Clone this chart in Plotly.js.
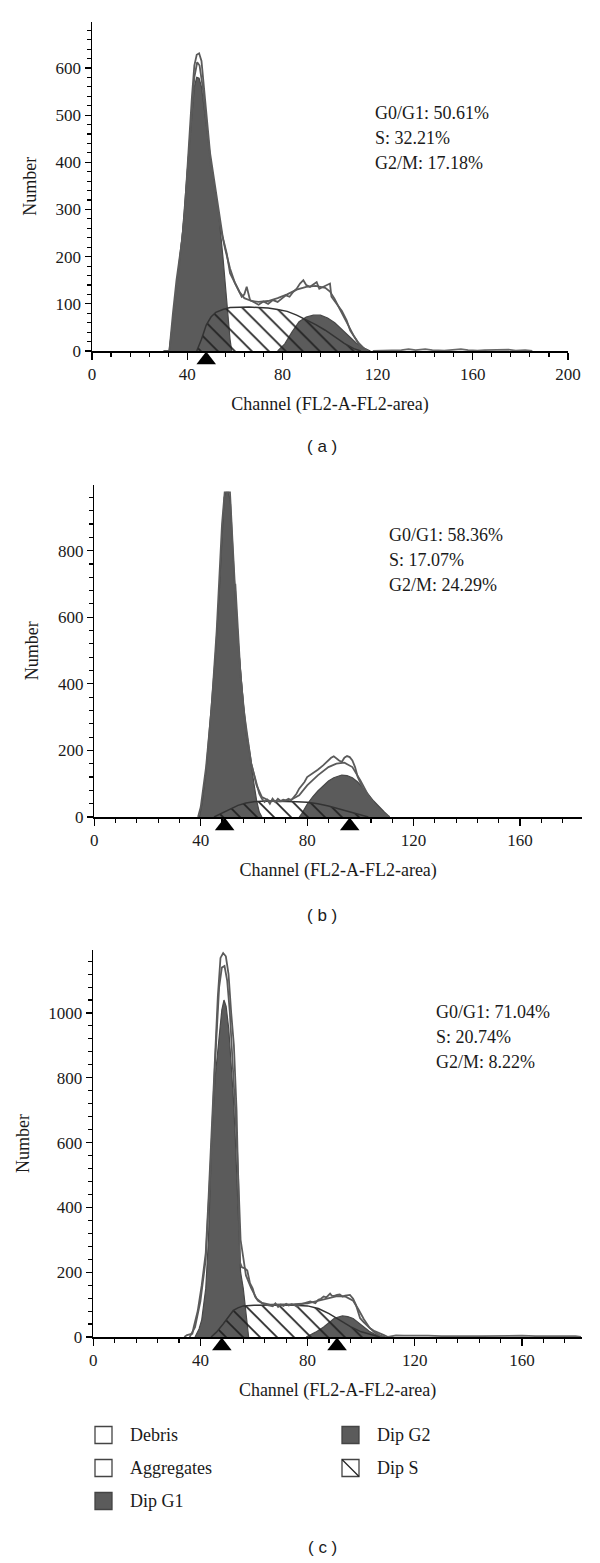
<!DOCTYPE html>
<html>
<head>
<meta charset="utf-8">
<script src="https://cdn.plot.ly/plotly-3.0.1.min.js"></script>
<style>html,body{margin:0;padding:0;background:#fff;}#chart{width:600px;height:1563px;}</style>
</head>
<body>
<div id="chart"></div>
<script>
// ---------- Panel (a) ----------
var aDataCh = [30,32.5,34,35.5,37,38,39,40,41,42,43,44,45,46,47,48,49.6,51.7,53.8,55,56.6,58,59.5,60.8,62.9,64,65,66.4,68,70,72,74,76,78,80,81.5,83,84.5,86,87.4,88.8,90,91.6,93,94.4,95.5,97,98.5,100,100.6,102.8,105,107,108.5,110,111.3,112.5,114];
var aDataN  = [0,0,80,150,205,240,300,370,460,540,605,628,631,615,560,500,420,350,278,240,207,165,150,136,115,120,136,108,104,98,105,100,108,104,112,118,115,125,132,143,150,140,136,142,146,132,136,140,143,115,100,85,65,43,32,21,10,0];
var aFitCh = [32.5,35,37,39,41,43,44.2,45.2,46.5,48,50,52,54,56,58,60,62,64,67,70,74,78,82,86,90,94,98,100,102,104,106,108,110,112,114,116];
var aFitN  = [0,100,200,290,440,580,612,605,560,480,390,320,262,215,175,145,125,112,106,104,106,112,120,130,136,138,134,126,110,90,70,50,32,17,7,0];
var aG1Ch = [32.5,34,35.5,37,38,40,42,43,44,45,46,47,48,50,52,53.5,55,56,57,58,58.7];
var aG1N  = [0,60,130,200,250,380,510,560,580,578,560,520,470,400,330,278,200,140,80,25,0];
var aSCh = [44,46,48,50,52,55,58,62,66,70,74,78,82,86,90,94,98,102,106,110,113];
var aSN  = [0,25,55,72,82,88,92,93,93,92,91,88,84,76,66,56,44,30,16,5,0];
var aG2Ch = [78,81,84,87,90,93,96,99,102,105,108,111,114,117];
var aG2N  = [0,15,40,62,72,76,76,70,60,45,30,17,7,0];
var aDebrisCh = [118,125,130,133,136,140,143,148,152,155,158,162,165,170,175,178,182,185];
var aDebrisN  = [0,1,2,4,2,4,2,1,2,4,2,1,2,2,3,1,2,0];
var aMarks = [48];
var aStats = ["G0/G1: 50.61%", "S: 32.21%", "G2/M: 17.18%"];

// ---------- Panel (b) ----------
var bDataCh = [39,40,42,44,46,48,49,51,52,54,56,58,59,60,61,62,63,64,65,66,67,68,69,70,71,72,73,74,75,76,77,78,79,80,82,84,86,88,89,90,91,92,93,94,95,96,97,98,99,100,101,102,103,104,105,106,107,108,109,110,111];
var bDataN  = [0,30,150,320,560,880,975,975,820,520,330,210,160,130,100,70,55,45,52,40,55,45,55,48,52,50,55,50,60,70,85,95,105,120,130,142,155,172,178,182,175,170,165,178,183,180,170,150,120,100,85,70,55,45,35,25,17,10,5,2,0];
var bFitCh = [53,55,57,59,61,63,66,70,74,77,80,84,88,91,94,97,100,103,106,109,111];
var bFitN  = [700,420,260,160,95,60,48,47,52,65,95,125,150,160,163,150,110,65,30,10,0];
var bG1Ch = [39.5,40.5,42,43.5,45.5,47,48,48.8,49.5,50.5,51.2,52,53,54.5,56,57,58.2,59,60,61,62,63];
var bG1N  = [0,40,140,280,485,680,820,960,975,975,940,800,660,485,330,250,200,150,100,50,15,0];
var bSCh = [45,48,51,54,57,60,64,68,72,76,80,84,88,92,96,100,103];
var bSN  = [0,12,25,35,42,46,48,48,47,46,44,40,33,24,14,6,0];
var bG2Ch = [77,78,80,82,84,86,88,90,92,93,95,97,99,101,103,105,107,109,111];
var bG2N  = [0,10,38,60,78,92,108,118,124,126,124,118,105,88,68,48,30,15,0];
var bDebrisCh = [];
var bDebrisN  = [];
var bMarks = [49, 96];
var bStats = ["G0/G1: 58.36%", "S: 17.07%", "G2/M: 24.29%"];

// ---------- Panel (c) ----------
var cDataCh = [34,35,36,37,37.5,39,40.5,42,43,44.2,45.5,46.5,47.5,48.5,49.5,50.5,51.5,52.5,53.5,54.3,54.8,55.5,56.6,57.5,58.5,59.5,60.4,61.5,62.9,64,66,67,68,69,70,71,72,73,74,75,76,77,78,79,80,81,82.9,84,85,86,87,88.4,89,90,91,92,93,94,95.8,97,98,99.6,101,103.3,105,107,108.5,110];
var cDataN  = [0,6,8,10,30,80,160,260,420,640,850,1050,1170,1185,1175,1120,1000,900,700,450,230,215,212,205,166,150,125,112,104,100,97,95,104,93,100,96,102,97,101,99,94,100,102,104,108,110,104,115,118,125,122,134,128,127,130,131,125,128,130,118,100,58,45,27,18,12,6,0];
var cFitCh = [36,38,40,42,44,45.5,47,48,49,50,51,52,53,54,55,57,59,61,63,66,70,75,80,84,88,91,94,97,99,101,103,105,107,109];
var cFitN  = [0,30,110,240,560,850,1080,1140,1145,1100,1000,860,700,520,300,190,150,118,105,100,100,101,104,112,122,126,125,112,85,55,30,14,5,0];
var cG1Ch = [38,39.5,40.5,42,43,44.2,45.5,47,48,48.8,49.6,50.6,51.5,52.3,53,53.6,54.2,55,56,57,58];
var cG1N  = [0,25,53,150,300,608,800,930,1010,1040,1020,950,850,740,620,500,330,200,150,80,0];
var cSCh = [44,46,48.5,50,52.3,54,56,60,65,70,75,80,84,88,92,96,100,104,107];
var cSN  = [0,15,40,58,82,90,96,98,99,99,98,96,88,72,52,32,16,6,0];
var cG2Ch = [79.5,83,86,88,90,93,95,97,99,101,103,105,108];
var cG2N  = [0,15,31,46,58,65,63,57,45,31,18,9,0];
var cDebrisCh = [110,113,116,120,125,130,135,140,145,150,155,160,165,170,175,180,182];
var cDebrisN  = [0,5,4,3,4,3,4,3,3,4,3,4,3,3,4,3,0];
var cMarks = [48, 91];
var cStats = ["G0/G1: 71.04%", "S: 20.74%", "G2/M: 8.22%"];

var legendNames = ["Debris", "Aggregates", "Dip G1", "Dip G2", "Dip S"];
var panelLabels = ["( a )", "( b )", "( c )"];

// ---------- layout geometry (pixels in 600x1563 page) ----------
var W = 600, H = 1563;
var panels = [
  {ax:'', mk:'4', xr:[0,200], yr:[0,698], ydt:100, ymin:20, px:[92,568], py:[351,21.7], statX:373, statY:[113,138,163], labY:447,
   data:[aDataCh,aDataN], fit:[aFitCh,aFitN], g1:[aG1Ch,aG1N], s:[aSCh,aSN], g2:[aG2Ch,aG2N], deb:[aDebrisCh,aDebrisN], marks:aMarks, stats:aStats},
  {ax:'2', mk:'5', xr:[0,183.3], yr:[0,998], ydt:200, ymin:40, px:[94.3,582], py:[817,484.7], statX:386.5, statY:[535,560,585], labY:915,
   data:[bDataCh,bDataN], fit:[bFitCh,bFitN], g1:[bG1Ch,bG1N], s:[bSCh,bSN], g2:[bG2Ch,bG2N], deb:[bDebrisCh,bDebrisN], marks:bMarks, stats:bStats},
  {ax:'3', mk:'6', xr:[0,182.4], yr:[0,1195], ydt:200, ymin:40, px:[93.2,582], py:[1337,949.8], statX:434, statY:[1012,1037,1062], labY:1547,
   data:[cDataCh,cDataN], fit:[cFitCh,cFitN], g1:[cG1Ch,cG1N], s:[cSCh,cSN], g2:[cG2Ch,cG2N], deb:[cDebrisCh,cDebrisN], marks:cMarks, stats:cStats}
];

var SERIF = 'Liberation Serif, Times New Roman, serif';
var SANS = 'Liberation Sans, Arial, sans-serif';
var GREY = '#5b5b5b', DARK = '#333333';
var MK = 17; // marker size

var traces = [], annotations = [], shapes = [];
var layout = {
  width: W, height: H, margin: {l:0, r:0, t:0, b:0},
  paper_bgcolor: '#fff', plot_bgcolor: 'rgba(0,0,0,0)',
  showlegend: false, font: {family: SERIF, color: '#1a1a1a'}
};

panels.forEach(function(p, i){
  var xa = 'x' + p.ax, ya = 'y' + p.ax, ym = 'y' + p.mk;
  var common = {xaxis: xa, yaxis: ya, hoverinfo: 'skip', showlegend: false};
  traces.push(Object.assign({type:'scatter', mode:'lines', name:'Dip G1', x:p.g1[0], y:p.g1[1], fill:'tozeroy',
    fillcolor: GREY, line:{color:'#484848', width:1.2}}, common));
  traces.push(Object.assign({type:'scatter', mode:'lines', name:'Dip G2', x:p.g2[0], y:p.g2[1], fill:'tozeroy',
    fillcolor: GREY, line:{color:'#484848', width:1.2}}, common));
  traces.push(Object.assign({type:'scatter', mode:'lines', name:'Dip S', x:p.s[0], y:p.s[1], fill:'tozeroy',
    fillcolor:'rgba(0,0,0,0)', fillpattern:{shape:'\\', size:12, solidity:0.14, fgcolor:'#222', bgcolor:'rgba(0,0,0,0)', fillmode:'replace'},
    line:{color:DARK, width:1.5}}, common));
  traces.push(Object.assign({type:'scatter', mode:'lines', name:'Fit', x:p.fit[0], y:p.fit[1],
    line:{color:GREY, width:1.8}}, common));
  traces.push(Object.assign({type:'scatter', mode:'lines', name:'Data', x:p.data[0], y:p.data[1],
    line:{color:GREY, width:1.8}}, common));
  if (p.deb[0].length) {
    traces.push(Object.assign({type:'scatter', mode:'lines', name:'Debris', x:p.deb[0], y:p.deb[1],
      line:{color:'#6a6a6a', width:1.8}}, common));
  }
  // peak-position markers live in a thin strip just below the x axis line
  traces.push({type:'scatter', mode:'markers', name:'Peak', xaxis: xa, yaxis: ym, hoverinfo:'skip', showlegend:false,
    x:p.marks, y:p.marks.map(function(){return 0.5;}), cliponaxis:false,
    marker:{symbol:'triangle-up', size:MK, color:'#000'}});

  var xdom = [p.px[0]/W, p.px[1]/W];
  var ydom = [1 - p.py[0]/H, 1 - p.py[1]/H];
  layout['xaxis' + p.ax] = {
    domain: xdom, range: p.xr, anchor: ya, tick0: 0, dtick: 40, ticks: 'outside', ticklen: 7, tickwidth: 1.2, tickcolor: '#000',
    showline: true, linecolor: '#000', linewidth: 1.5, showgrid: false, zeroline: false, fixedrange: true,
    tickfont: {family: SERIF, size: 17, color: '#1a1a1a'},
    minor: {dtick: 8, tick0: 0, ticks: 'outside', ticklen: 4, tickwidth: 1.1, tickcolor: '#000', showgrid: false},
    title: {text: 'Channel (FL2-A-FL2-area)', font: {family: SERIF, size: 18, color: '#1a1a1a'}, standoff: 14}
  };
  layout['yaxis' + p.ax] = {
    domain: ydom, range: p.yr, anchor: xa, tick0: 0, dtick: p.ydt, ticks: 'outside', ticklen: 6, tickwidth: 1.2, tickcolor: '#000',
    showline: true, linecolor: '#000', linewidth: 1.5, showgrid: false, zeroline: false, fixedrange: true,
    tickfont: {family: SERIF, size: 17, color: '#1a1a1a'},
    minor: {dtick: p.ymin, tick0: 0, ticks: 'outside', ticklen: 4, tickwidth: 1.1, tickcolor: '#000', showgrid: false},
    title: {text: 'Number', font: {family: SERIF, size: 18, color: '#1a1a1a'}, standoff: 14}
  };
  // strip axis: triangle tip touches the baseline
  var stripTop = p.py[0] + 0.5, stripBot = p.py[0] + 0.5 + MK;
  layout['yaxis' + p.mk] = {
    domain: [1 - stripBot/H, 1 - stripTop/H], range: [0, 1], anchor: xa, visible: false, fixedrange: true,
    showgrid: false, zeroline: false, showline: false, showticklabels: false, ticks: ''
  };
  p.stats.forEach(function(t, k){
    annotations.push({xref:'paper', yref:'paper', x: p.statX/W, y: 1 - p.statY[k]/H, xanchor:'left', yanchor:'middle',
      text: t, showarrow:false, font:{family: SERIF, size: 18, color:'#1a1a1a'}});
  });
  annotations.push({xref:'paper', yref:'paper', x: 322/W, y: 1 - p.labY/H, xanchor:'center', yanchor:'middle',
    text: panelLabels[i], showarrow:false, font:{family: SANS, size: 17, color:'#1a1a1a'}});
});

// ---------- legend (drawn under panel c) ----------
var legItems = [
  {name: legendNames[0], col: 0, row: 0, fill: '#fff', hatch: false},
  {name: legendNames[1], col: 0, row: 1, fill: '#fff', hatch: false},
  {name: legendNames[2], col: 0, row: 2, fill: GREY, hatch: false},
  {name: legendNames[3], col: 1, row: 0, fill: GREY, hatch: false},
  {name: legendNames[4], col: 1, row: 1, fill: '#fff', hatch: true}
];
var colX = [95, 342], rowY = [1435, 1468, 1501], box = 17;
legItems.forEach(function(it){
  var x0 = colX[it.col], yc = rowY[it.row];
  var X = function(v){return v / W;}, Y = function(v){return 1 - v / H;};
  shapes.push({type:'rect', xref:'paper', yref:'paper', x0:X(x0), x1:X(x0+box), y0:Y(yc+box/2), y1:Y(yc-box/2),
    fillcolor: it.fill, line:{color:'#444', width:1.3}});
  if (it.hatch) {
    shapes.push({type:'line', xref:'paper', yref:'paper', x0:X(x0), y0:Y(yc-box/2), x1:X(x0+box), y1:Y(yc+box/2),
      line:{color:'#222', width:1.2}});
  }
  annotations.push({xref:'paper', yref:'paper', x: X(x0 + 33), y: Y(yc), xanchor:'left', yanchor:'middle',
    text: it.name, showarrow:false, font:{family: SERIF, size: 18, color:'#1a1a1a'}});
});

layout.annotations = annotations;
layout.shapes = shapes;

Plotly.newPlot('chart', traces, layout, {staticPlot: true, displayModeBar: false});
</script>
</body>
</html>
